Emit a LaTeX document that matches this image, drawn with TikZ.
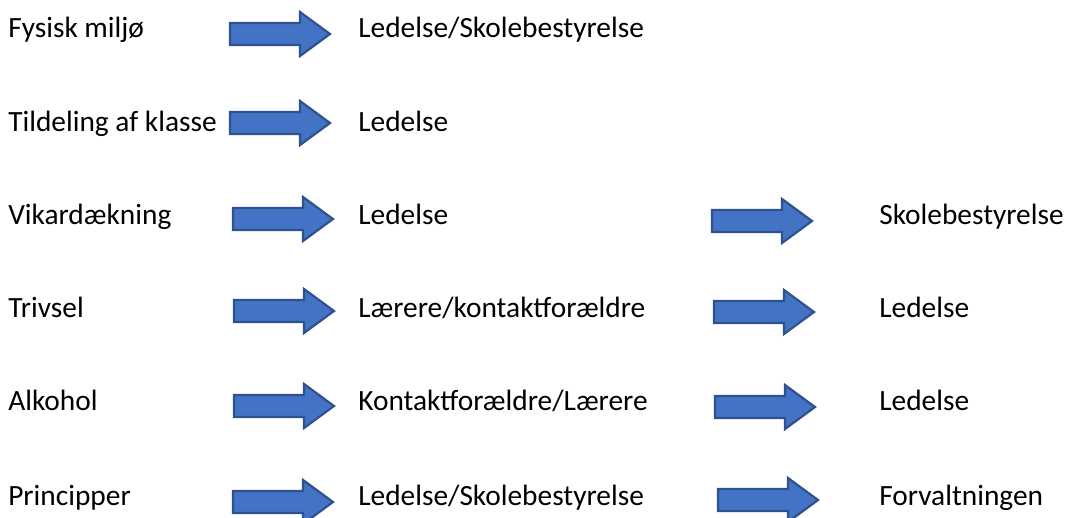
\documentclass[tikz,border=0pt]{standalone}
\usepackage{fontspec}
\setmainfont{Carlito}
\definecolor{arrowfill}{HTML}{4472C4}
\definecolor{arrowedge}{HTML}{2F528F}
\tikzset{
  arrowline/.style={line width=0.055cm, draw=arrowedge, fill=arrowfill, line join=miter},
  blockarrow/.pic={\draw [arrowline] (0,-0.275) -- (1.75,-0.275) -- (1.75,-0.55) -- (2.5,0) -- (1.75,0.55) -- (1.75,0.275) -- (0,0.275) -- cycle;},
  label/.style={anchor=base west, inner sep=0}
}
\begin{document}
\begin{tikzpicture}
            \clip (0,0) rectangle (26.650000,-12.925000);
            {\fontsize{20.9}{25}\selectfont

            % Row Fysisk miljø
            \node [label] (fysisk) at (0.200000,-0.925000) {Fysisk miljø};%
            \pic at (5.750000,-0.850000) {blockarrow};%
            \node [label] (fysiskA) at (8.950000,-0.925000) {Ledelse/Skolebestyrelse};%

            % Row Tildeling af klasse
            \node [label] (tildeling) at (0.200000,-3.275000) {Tildeling af klasse};%
            \pic at (5.750000,-3.075000) {blockarrow};%
            \node [label] (tildelingA) at (8.950000,-3.275000) {Ledelse};%

            % Row Vikardækning
            \node [label] (vikar) at (0.200000,-5.600000) {Vikardækning};%
            \pic at (5.825000,-5.475000) {blockarrow};%
            \node [label] (vikarA) at (8.950000,-5.600000) {Ledelse};%
            \pic at (17.800000,-5.525000) {blockarrow};%
            \node [label] (vikarB) at (21.975000,-5.600000) {Skolebestyrelse};%

            % Row Trivsel
            \node [label] (trivsel) at (0.200000,-7.925000) {Trivsel};%
            \pic at (5.850000,-7.775000) {blockarrow};%
            \node [label] (trivselA) at (8.950000,-7.925000) {Lærere/kontaktforældre};%
            \pic at (17.850000,-7.800000) {blockarrow};%
            \node [label] (trivselB) at (21.975000,-7.925000) {Ledelse};%

            % Row Alkohol
            \node [label] (alkohol) at (0.200000,-10.250000) {Alkohol};%
            \pic at (5.850000,-10.150000) {blockarrow};%
            \node [label] (alkoholA) at (8.950000,-10.250000) {Kontaktforældre/Lærere};%
            \pic at (17.875000,-10.175000) {blockarrow};%
            \node [label] (alkoholB) at (21.975000,-10.250000) {Ledelse};%

            % Row Principper
            \node [label] (principper) at (0.200000,-12.625000) {Principper};%
            \pic at (5.825000,-12.550000) {blockarrow};%
            \node [label] (principperA) at (8.950000,-12.625000) {Ledelse/Skolebestyrelse};%
            \pic at (17.950000,-12.500000) {blockarrow};%
            \node [label] (principperB) at (21.975000,-12.625000) {Forvaltningen};%
            }
        \end{tikzpicture}
\end{document}
